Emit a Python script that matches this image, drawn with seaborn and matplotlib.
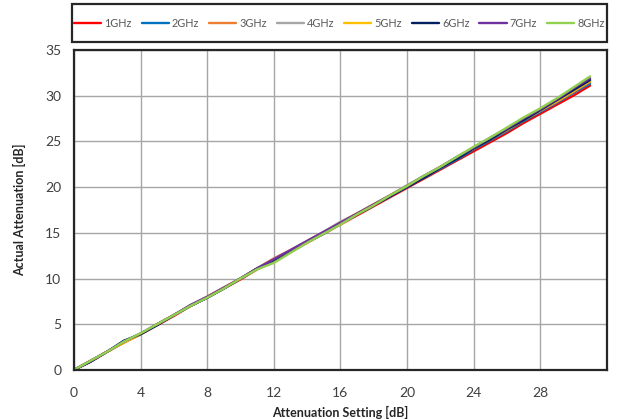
import pandas as pd
import matplotlib.pyplot as plt
from matplotlib.patches import Rectangle
import seaborn as sns

# --- DATA ---
SETTING = list(range(32))
SERIES = ['1GHz', '2GHz', '3GHz', '4GHz', '5GHz', '6GHz', '7GHz', '8GHz']
COLORS = ['#FF0000', '#0070C0', '#ED7D31', '#A5A5A5', '#FFC000', '#002060', '#7030A0', '#92D050']

att_1g = [0, 0.9, 2.0, 3.0, 3.9, 4.9, 5.9, 7.0, 7.9, 8.9, 9.9, 11.0, 11.9, 12.9, 13.9, 14.9,
          15.9, 16.9, 17.9, 18.9, 19.9, 20.9, 21.9, 22.9, 23.9, 24.9, 25.9, 27.0, 28.0, 29.0, 30.0, 31.1]
att_2g = [0, 1.0, 2.0, 3.1, 3.9, 5.0, 6.0, 7.0, 7.9, 8.9, 10.0, 11.0, 12.0, 13.0, 14.0, 15.0,
          16.0, 17.0, 18.0, 19.0, 20.0, 21.0, 22.0, 23.0, 24.1, 25.1, 26.1, 27.2, 28.2, 29.2, 30.3, 31.3]
att_3g = [0, 1.0, 2.0, 3.0, 3.9, 5.0, 6.0, 7.0, 8.0, 9.0, 10.0, 11.1, 12.2, 13.1, 14.1, 15.1,
          16.1, 17.1, 18.1, 19.1, 20.1, 21.1, 22.1, 23.2, 24.2, 25.2, 26.2, 27.3, 28.3, 29.3, 30.4, 31.5]
att_4g = [0, 1.0, 2.0, 3.1, 3.9, 5.0, 6.0, 7.1, 8.0, 9.0, 10.0, 11.1, 12.1, 13.1, 14.1, 15.1,
          16.2, 17.1, 18.1, 19.1, 20.2, 21.2, 22.2, 23.2, 24.3, 25.3, 26.3, 27.4, 28.4, 29.5, 30.6, 31.7]
att_5g = [0, 1.0, 2.0, 3.0, 3.9, 5.0, 6.0, 7.0, 8.0, 9.0, 10.0, 11.0, 12.0, 13.0, 14.0, 15.0,
          16.1, 17.1, 18.1, 19.1, 20.1, 21.1, 22.2, 23.2, 24.2, 25.3, 26.3, 27.3, 28.4, 29.4, 30.5, 31.6]
att_6g = [0, 0.9, 2.0, 3.2, 3.9, 4.9, 6.0, 7.0, 7.9, 8.9, 10.0, 11.1, 12.0, 13.0, 14.0, 14.9,
          16.0, 17.0, 18.0, 19.0, 20.0, 21.0, 22.1, 23.1, 24.2, 25.2, 26.3, 27.3, 28.4, 29.5, 30.6, 31.7]
att_7g = [0, 1.0, 2.0, 3.1, 4.0, 5.0, 6.0, 7.1, 8.0, 9.0, 10.0, 11.1, 12.1, 13.1, 14.1, 15.1,
          16.1, 17.1, 18.1, 19.1, 20.1, 21.2, 22.2, 23.3, 24.3, 25.4, 26.4, 27.5, 28.5, 29.6, 30.8, 31.9]
att_8g = [0, 1.0, 2.0, 3.1, 4.0, 5.0, 6.0, 7.0, 7.9, 8.9, 10.0, 11.0, 11.7, 12.8, 13.9, 14.9,
          15.9, 17.0, 18.0, 19.1, 20.1, 21.2, 22.2, 23.3, 24.4, 25.4, 26.5, 27.6, 28.6, 29.7, 30.9, 32.1]

ALL = [att_1g, att_2g, att_3g, att_4g, att_5g, att_6g, att_7g, att_8g]

# long form table for seaborn
rows = []
for name, vals in zip(SERIES, ALL):
    for s, v in zip(SETTING, vals):
        rows.append({'Setting': s, 'Actual': v, 'Freq': name})
df = pd.DataFrame(rows)

sns.set_style('white')
plt.rcParams['font.family'] = ['Lato', 'DejaVu Sans']

fig = plt.figure(figsize=(6.21, 4.19), dpi=100)
ax = fig.add_axes([0.119, 0.117, 0.858, 0.764])

sns.lineplot(data=df, x='Setting', y='Actual', hue='Freq', hue_order=SERIES,
             palette=COLORS, linewidth=1.7, ax=ax, legend=True)

ax.set_xlim(0, 32)
ax.set_ylim(0, 35)
ax.set_xticks(range(0, 33, 4))
ax.set_xticklabels(['0', '4', '8', '12', '16', '20', '24', '28', ''])
ax.set_yticks(range(0, 36, 5))
ax.grid(True, color='#A6A6A6', linewidth=1)
ax.set_axisbelow(True)
for sp in ax.spines.values():
    sp.set_color('#262626')
    sp.set_linewidth(1.6)
ax.tick_params(axis='both', labelsize=10, colors='#404040', length=0)
ax.tick_params(axis='x', pad=12)
ax.tick_params(axis='y', pad=9)

ax.set_xlabel('Attenuation Setting [dB]', fontsize=9, fontweight='bold', labelpad=5)
ax.set_ylabel('Actual Attenuation [dB]', fontsize=9, fontweight='bold', labelpad=14)

# legend box drawn as a separate frame, legend itself centred in it
fig.patches.append(Rectangle((0.116, 0.900), 0.861, 0.090, transform=fig.transFigure,
                             fill=False, edgecolor='#262626', linewidth=1.6))
handles, labels = ax.get_legend_handles_labels()
ax.get_legend().remove()
leg = fig.legend(handles, labels, ncol=8, loc='center',
                 bbox_to_anchor=(0.5465, 0.945), fontsize=7.8, frameon=False,
                 handlelength=2.5, handletextpad=0.3, columnspacing=0.9)
for t in leg.get_texts():
    t.set_color('#595959')

plt.savefig('out.png', dpi=100)
